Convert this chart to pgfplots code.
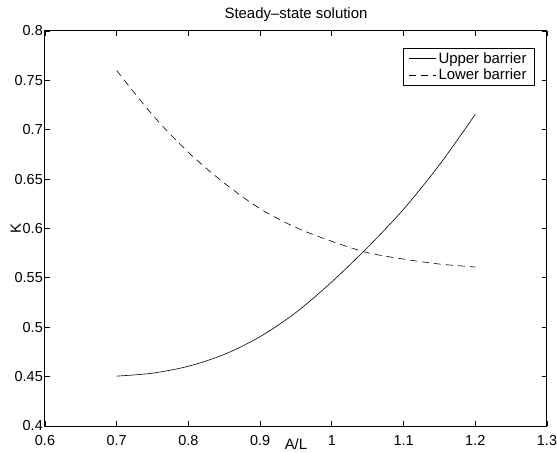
\documentclass[border=0pt]{standalone}
\usepackage{fontspec}
\setmainfont{Liberation Sans}
\usepackage{pgfplots}
\pgfplotsset{compat=1.18}
\pgfplotstableread{
x y
0.70 0.4505
0.75 0.4535
0.80 0.4605
0.85 0.4725
0.90 0.4905
0.95 0.5150
1.00 0.5460
1.05 0.5810
1.10 0.6195
1.15 0.6645
1.20 0.7155
}\upperdata
\pgfplotstableread{
x y
0.70 0.760
0.75 0.715
0.80 0.677
0.85 0.646
0.90 0.620
0.95 0.601
1.00 0.587
1.05 0.5755
1.10 0.569
1.15 0.564
1.20 0.561
}\lowerdata
\begin{document}
\begin{tikzpicture}
\path[use as bounding box] (-45bp,-27bp) rectangle (512bp,426bp);
\begin{axis}[
  at={(0,0)}, anchor=south west,
  scale only axis, width=502bp, height=395bp,
  xmin=0.6, xmax=1.3, ymin=0.4, ymax=0.8,
  xtick={0.6,0.7,0.8,0.9,1.0,1.1,1.2,1.3},
  xticklabels={0.6,0.7,0.8,0.9,1,1.1,1.2,1.3},
  ytick={0.4,0.45,0.5,0.55,0.6,0.65,0.7,0.75,0.8},
  yticklabels={0.4,0.45,0.5,0.55,0.6,0.65,0.7,0.75,0.8},
  tick align=inside, xtick pos=both, ytick pos=both,
  major tick length=5bp,
  tick style={black, line width=0.8bp},
  axis line style={line width=1bp},
  tick label style={font=\fontsize{14.5}{16}\selectfont},
  xticklabel style={anchor=north, inner sep=0pt, yshift=-9bp},
  yticklabel style={anchor=east, inner sep=0pt, xshift=-2bp},
  title={Steady\textendash state solution},
  title style={at={(axis description cs:0.5,1)}, anchor=base, yshift=7bp, inner sep=0pt, font=\fontsize{15}{17}\selectfont},
  xlabel={A/L},
  xlabel style={at={(axis description cs:0.5,0)}, anchor=north, yshift=-12bp, inner sep=0pt, font=\fontsize{15}{17}\selectfont},
  ylabel={K},
  ylabel style={at={(axis description cs:0,0.5)}, anchor=base, yshift=24bp, inner sep=0pt, font=\fontsize{15}{17}\selectfont},
  legend style={at={(axis description cs:0.976,0.957)}, anchor=north east, draw=black, line width=0.8bp,
    inner xsep=6bp, inner ysep=2bp, row sep=0bp, font=\fontsize{15}{17}\selectfont,
    nodes={inner sep=2bp},
    /tikz/every even column/.append style={column sep=5bp}},
  legend cell align=left,
  legend image code/.code={\draw[#1] (0bp,0bp) -- (27bp,0bp);},
]
\addplot[black, line width=0.6bp, no marks, smooth] table[x=x,y=y] {\upperdata};
\addlegendentry{Upper barrier}
\addplot[black, line width=0.6bp, no marks, smooth, dash pattern=on 7bp off 5bp] table[x=x,y=y] {\lowerdata};
\addlegendentry{Lower barrier}
\end{axis}
\end{tikzpicture}
\end{document}
